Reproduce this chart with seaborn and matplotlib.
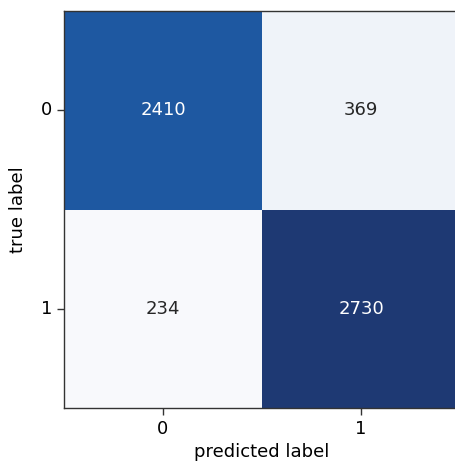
import numpy as np
import pandas as pd
import matplotlib
matplotlib.use("Agg")
import matplotlib.pyplot as plt
from matplotlib.colors import ListedColormap
import seaborn as sns

# Confusion matrix counts (rows: true label, columns: predicted label)
class_labels = ["0", "1"]
row_true_0 = [2410, 369]
row_true_1 = [234, 2730]

cm = pd.DataFrame([row_true_0, row_true_1], index=class_labels, columns=class_labels)

# Slightly softened version of the "Blues" colormap
base = plt.get_cmap("Blues")(np.linspace(0, 1, 256))
soft = base.copy()
soft[:, 0] = base[:, 0] * 0.912 + 22.7 / 255
soft[:, 1] = base[:, 1] * 0.946 + 11.6 / 255
soft[:, 2] = base[:, 2] * 0.926 + 16.0 / 255
soft = np.clip(soft, 0, 1)
soft_blues = ListedColormap(soft, name="soft_blues")

plt.rcParams["font.family"] = ["DejaVu Sans"]

fig = plt.figure(figsize=(4.55, 4.68), dpi=100)
ax = fig.add_axes([64 / 455, 1 - 408 / 468, 396 / 455, 397 / 468])

sns.heatmap(
    cm, ax=ax, cmap=soft_blues, annot=True, fmt="d", cbar=False,
    annot_kws={"fontsize": 13},
)

for side, spine in ax.spines.items():
    spine.set_visible(True)
    spine.set_color("#333333")
    spine.set_linewidth(1.0)

ax.tick_params(axis="both", labelsize=13, length=5, width=1, color="#333333")
ax.set_yticklabels(class_labels, rotation=0)
ax.set_xticklabels(class_labels, rotation=0)
ax.set_xlabel("predicted label", fontsize=13)
ax.set_ylabel("true label", fontsize=13, labelpad=10)

fig.savefig("out.png", dpi=100)
